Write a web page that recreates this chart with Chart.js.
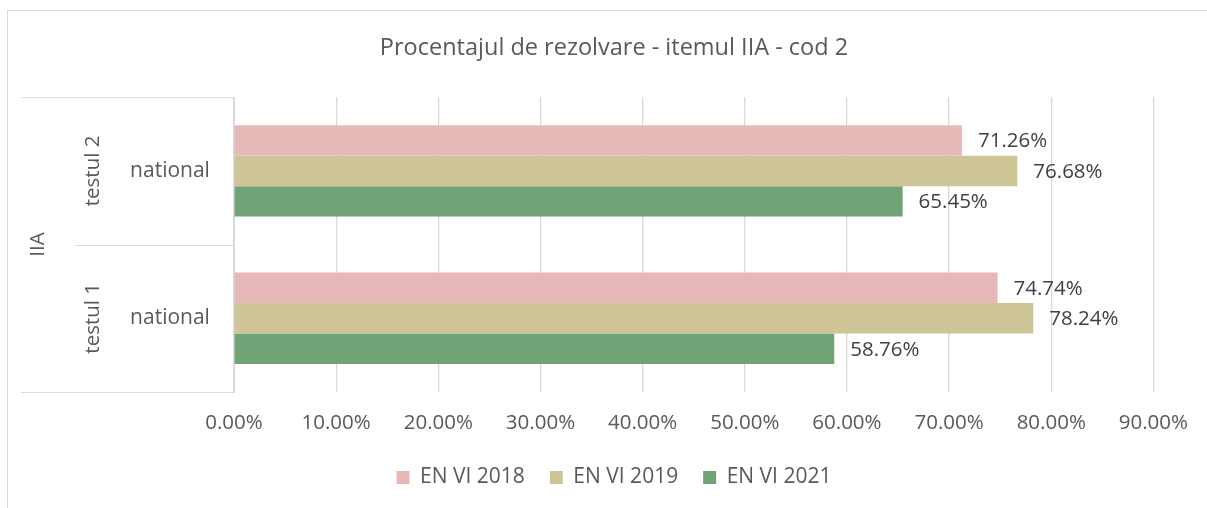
<!DOCTYPE html>
<html>
<head>
<meta charset="utf-8">
<script src="https://cdn.jsdelivr.net/npm/chart.js@4/dist/chart.umd.min.js"></script>
<style>
    html, body {
        margin: 0;
        padding: 0;
        background: #fff;
        overflow: hidden;
    }
    #frame {
        position: absolute;
        left: 7px;
        top: 10px;
        width: 1400px;
        height: 700px;
        border: 1px solid #d9d9d9;
    }
    #wrap {
        position: absolute;
        left: 0;
        top: 0;
        width: 1207px;
        height: 508px;
    }
</style>
</head>
<body>
<div id="frame"></div>
<div id="wrap"><canvas id="chart"></canvas></div>
<script>
const categories = ["testul 2", "testul 1"];
const groupLabel = "national";
const topLabel = "IIA";

const seriesNames = ["EN VI 2018", "EN VI 2019", "EN VI 2021"];
const en2018 = [71.26, 74.74];
const en2019 = [76.68, 78.24];
const en2021 = [65.45, 58.76];

const xTicks = [0, 10, 20, 30, 40, 50, 60, 70, 80, 90];

const FONT = "'Open Sans', sans-serif";
const gridColor = "#d9d9d9";

// category boxes on the left (Excel multi-level axis)
const multiLevelAxis = {
    id: "multiLevelAxis",
    afterDraw(chart) {
        const ctx = chart.ctx;
        const area = chart.chartArea;
        const yScale = chart.scales.y;

        ctx.save();
        ctx.strokeStyle = gridColor;
        ctx.lineWidth = 1;

        ctx.beginPath();
        ctx.moveTo(21, area.top + 0.5);
        ctx.lineTo(area.left, area.top + 0.5);
        ctx.moveTo(21, area.bottom + 0.5);
        ctx.lineTo(area.left, area.bottom + 0.5);

        for (let i = 1; i < categories.length; i++) {
            const y = Math.round((yScale.getPixelForTick(i - 1) + yScale.getPixelForTick(i)) / 2) + 0.5;
            ctx.moveTo(75, y);
            ctx.lineTo(area.left, y);
        }
        ctx.stroke();

        ctx.fillStyle = "#595959";
        ctx.textAlign = "center";
        ctx.textBaseline = "middle";

        categories.forEach((cat, i) => {
            const y = yScale.getPixelForTick(i);
            ctx.font = "21px " + FONT;
            ctx.fillText(groupLabel, 170, y);

            ctx.save();
            ctx.font = "20.5px " + FONT;
            ctx.translate(93, y);
            ctx.rotate(-Math.PI / 2);
            ctx.fillText(cat, 0, 0);
            ctx.restore();
        });

        ctx.save();
        ctx.font = "20.5px " + FONT;
        ctx.translate(38, (area.top + area.bottom) / 2);
        ctx.rotate(-Math.PI / 2);
        ctx.fillText(topLabel, 0, 0);
        ctx.restore();

        ctx.restore();
    }
};

// value labels at the end of each bar
const barLabels = {
    id: "barLabels",
    afterDatasetsDraw(chart) {
        const ctx = chart.ctx;
        ctx.save();
        ctx.fillStyle = "#404040";
        ctx.font = "20.5px " + FONT;
        ctx.textAlign = "left";
        ctx.textBaseline = "middle";

        chart.data.datasets.forEach((ds, di) => {
            chart.getDatasetMeta(di).data.forEach((bar, i) => {
                ctx.fillText(ds.data[i].toFixed(2) + "%", bar.x + 16, bar.y + 1);
            });
        });
        ctx.restore();
    }
};

new Chart(document.getElementById("chart"), {
    type: "bar",
    data: {
        labels: categories,
        datasets: [
            {
                label: seriesNames[0],
                data: en2018,
                backgroundColor: "#e6b8b7"
            },
            {
                label: seriesNames[1],
                data: en2019,
                backgroundColor: "#cdc596"
            },
            {
                label: seriesNames[2],
                data: en2021,
                backgroundColor: "#70a375"
            }
        ]
    },
    options: {
        indexAxis: "y",
        responsive: true,
        maintainAspectRatio: false,
        animation: false,
        categoryPercentage: 0.62,
        barPercentage: 1,

        layout: {
            padding: { top: 10, right: 53, bottom: 10, left: 74 }
        },

        scales: {
            x: {
                min: 0,
                max: 90,
                afterBuildTicks: scale => {
                    scale.ticks = xTicks.map(v => ({ value: v }));
                },
                afterFit: scale => {
                    scale.height = 50;
                },
                grid: {
                    color: gridColor,
                    lineWidth: 1.3,
                    drawTicks: false
                },
                border: { display: false },
                ticks: {
                    padding: 19,
                    color: "#595959",
                    font: { family: FONT, size: 20.5 },
                    callback: v => v.toFixed(2) + "%"
                }
            },
            y: {
                afterFit: scale => {
                    scale.width = 160;
                },
                grid: { display: false },
                border: { display: true, color: gridColor, width: 1 },
                ticks: { display: false }
            }
        },

        plugins: {
            title: {
                display: true,
                text: "Procentajul de rezolvare - itemul IIA - cod 2",
                color: "#595959",
                font: { family: FONT, size: 23.5, weight: "normal" },
                padding: { top: 24, bottom: 35 }
            },
            legend: {
                position: "bottom",
                labels: {
                    boxWidth: 13,
                    boxHeight: 13,
                    padding: 25,
                    color: "#595959",
                    font: { family: FONT, size: 21 }
                }
            },
            tooltip: { enabled: false }
        }
    },
    plugins: [multiLevelAxis, barLabels]
});
</script>
</body>
</html>
